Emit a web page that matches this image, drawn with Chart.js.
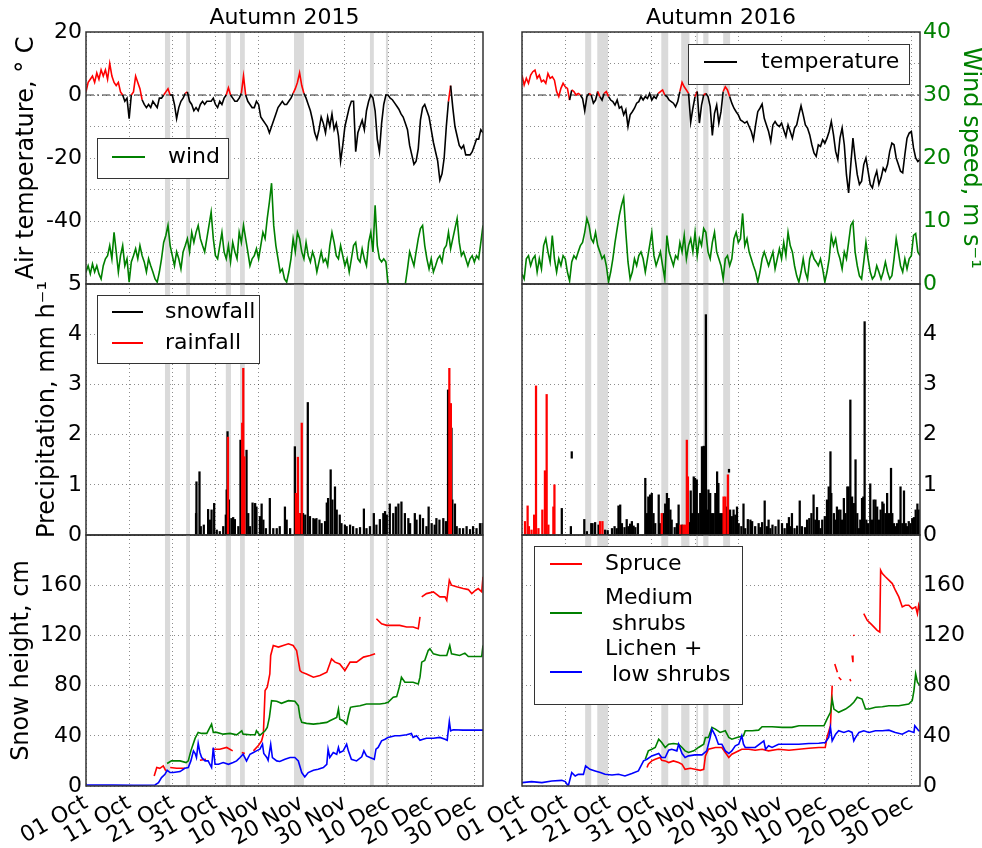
<!DOCTYPE html>
<html>
<head>
<meta charset="utf-8">
<script src="https://cdn.jsdelivr.net/npm/chart.js"></script>
<style>
  body { margin: 0; background: #fff; }
  #fig { position: relative; width: 982px; height: 848px; overflow: hidden; background: #fff; }
  #fig canvas { position: absolute; }
</style>
</head>
<body>
<div id="fig">
  <canvas id="cTL" width="500" height="300" style="left:0;top:0"></canvas>
  <canvas id="cTR" width="552" height="300" style="left:430px;top:0"></canvas>
  <canvas id="cML" width="500" height="290" style="left:0;top:260px"></canvas>
  <canvas id="cMR" width="552" height="290" style="left:430px;top:260px"></canvas>
  <canvas id="cBL" width="500" height="328" style="left:0;top:520px"></canvas>
  <canvas id="cBR" width="552" height="328" style="left:430px;top:520px"></canvas>
</div>
<script>
// x axis: days since 1 October
const tickDays = [0, 10, 20, 30, 40, 50, 60, 70, 80, 90];
const tickLabels = ['01 Oct', '11 Oct', '21 Oct', '31 Oct', '10 Nov', '20 Nov', '30 Nov', '10 Dec', '20 Dec', '30 Dec'];
const tempGrid = [-60, -50, -40, -30, -20, -10, 0, 10, 20];
const tempLabels = [20, 0, -20, -40];
const windGrid = [0, 5, 10, 15, 20, 25, 30, 35, 40];
const windLabels = [0, 10, 20, 30, 40];
const precGrid = [0, 1, 2, 3, 4, 5];
const precLabelsL = [0, 1, 2, 3, 4, 5];
const precLabelsR = [0, 1, 2, 3, 4];
const snowGrid = [0, 20, 40, 60, 80, 100, 120, 140, 160, 180, 200];
const snowLabels = [0, 40, 80, 120, 160];
const refLineDays = [0, 92];

// shaded periods [start day, end day]
const bands2015 = [[18.3, 19.5], [23.2, 24.1], [32.4, 33.6], [35.7, 36.8], [48.2, 50.5], [65.8, 66.7], [69.5, 70.0]];
const bands2016 = [[14.6, 16.0], [17.4, 19.9], [32.2, 33.8], [36.8, 38.7], [40.3, 40.7], [41.9, 43.1], [46.5, 48.1]];

// half-daily air temperature (deg C) and wind speed (m/s)
const temp2015 = [1, 4, 5, 6, 4, 7, 5, 8, 6, 8,
  5, 10, 6, 4, 3, 4, 1, 0, -2, -1,
  -7.5, 0, 1, 6, 4, 2, -1.5, -3, -4, -3,
  -4, -2, -3, -4, -1, -1, 0, 1, 2, 0,
  0, -3, -7.5, -4, -2, -1, 0.5, 1, -2, -3,
  -5, -4, -5, -3, -2, -3, -2, -2, -2, -1,
  -3, -4, -2, -3, -1, 0, 2.3, 0, -1, -2,
  -2, -1, 0.5, 6, 0, -2, -3, -4, -4, -2,
  -3, -7, -8, -9, -10, -12, -10, -8, -6, -4,
  -3, -2, -3, -3, -2, -1, 0.5, 2, 4, 7,
  3, 0.5, -1, -3, -5, -8, -12, -14, -11, -7,
  -9, -12, -7, -10, -6, -11, -9, -13, -21, -16,
  -10, -7, -4, -2, -2, -18, -12, -10, -8, -11,
  -5, -2, 0, -1, -5, -14, -18, -9, -3, 0,
  0, -1, -1.5, -2.5, -3.5, -4.5, -6, -7, -9, -11,
  -16, -19, -22, -21, -17, -8, -4, -3, -5, -7,
  -11, -15, -18, -21, -27, -25, -20, -10, -2, 3,
  -4, -10, -13, -16, -17, -16, -19, -19, -19, -18,
  -16, -14, -14, -11, -12];
const wind2015 = [1.9, 2.9, 1.6, 3.2, 1.9, 2.9, 1.6, 0.8, 2.9, 4.0,
  4.5, 6.1, 4.0, 8.2, 5.1, 1.9, 4.5, 6.1, 2.9, 4.0,
  0.3, 3.5, 4.5, 5.6, 4.0, 6.1, 4.5, 3.5, 1.9, 4.0,
  2.9, 1.9, 0.8, 0.3, 1.9, 4.0, 6.6, 7.7, 9.3, 6.1,
  4.5, 2.9, 5.1, 4.0, 2.4, 5.1, 6.1, 7.2, 5.1, 8.2,
  6.6, 8.2, 9.3, 7.2, 6.1, 5.1, 7.2, 9.3, 11.4, 7.2,
  4.5, 4.0, 6.1, 8.2, 5.1, 4.0, 6.1, 3.5, 6.6, 5.1,
  4.0, 8.2, 6.6, 9.3, 7.2, 5.1, 2.9, 4.0, 4.5, 5.6,
  4.0, 6.1, 8.2, 7.2, 10.4, 13.0, 16.0, 9.3, 6.1, 4.0,
  1.9, 2.4, 0.8, 0.3, 1.9, 4.0, 7.2, 5.1, 8.2, 7.2,
  5.1, 4.0, 6.6, 4.5, 3.5, 5.1, 4.0, 1.9, 3.5, 5.1,
  3.5, 4.0, 2.9, 6.1, 8.2, 6.6, 4.5, 4.0, 6.1, 4.5,
  2.9, 4.0, 1.9, 4.0, 6.1, 6.6, 4.0, 3.5, 5.6, 4.0,
  2.9, 6.6, 8.2, 5.1, 12.5, 6.1, 4.0, 3.5, 4.0, 3.5,
  0, 0, 0, 0, 0, 0, 0, 0, 0, 2.4,
  5.1, 4.0, 2.9, 5.1, 7.2, 8.8, 9.3, 6.1, 4.0, 2.4,
  4.0, 1.9, 2.9, 4.0, 4.5, 3.5, 5.6, 6.1, 8.2, 5.6,
  7.2, 8.8, 10.4, 6.6, 4.5, 5.1, 4.0, 2.9, 4.0, 4.5,
  3.5, 4.5, 4.0, 6.6, 9.3];
const temp2016 = [6.3, 3.2, 5.3, 3.7, 6.3, 7.4, 7.9, 5.3, 6.3, 4.2,
  4.7, 3.7, 6.8, 5.3, 5.8, 4.7, 1.1, -0.5, 2.1, 3.7,
  2.6, 2.1, -1.6, 1.6, 1.1, 0, 0.5, 0, -1.1, -5.0,
  -0.5, 0.5, 0, -2.6, -1.6, 1.1, -0.5, -1.6, 0.5, 1.1,
  -0.5, -1.6, -2.1, -3.2, -1.6, -4.2, -3.7, -6.3, -4.7, -10.0,
  -6.3, -5.3, -4.2, -2.6, -2.1, -0.5, -1.6, -0.5, -1.1, 0.5,
  -1.6, -0.5, -1.1, 0.5, 1.1, 1.6, 0, -0.5, -1.6, -2.1,
  -2.6, -3.7, -2.1, 1.1, 4.0, 2.6, 1.6, 0.5, -8.6, -4.2,
  -0.5, 1.1, -8.9, -3.2, 0, 0.5, -0.5, -3.7, -12.8, -5.8,
  -3.2, -8.9, -5.3, 1.1, 2.6, 1.6, -0.5, -2.6, -4.2, -5.3,
  -6.3, -7.9, -8.4, -8.9, -8.4, -10.0, -11.6, -14.2, -9.5, -5.3,
  -4.2, -2.9, -7.4, -9.5, -11.6, -14.7, -9.5, -8.4, -9.5, -10.0,
  -8.9, -11.1, -13.2, -9.5, -11.6, -13.7, -10.5, -9.5, -6.3, -3.4,
  -6.3, -9.5, -10.5, -12.6, -15.8, -18.4, -19.5, -15.8, -16.3, -14.2,
  -15.3, -13.7, -11.6, -8.4, -12.6, -17.9, -20.5, -13.7, -10.5, -15.8,
  -25.3, -31.1, -22.1, -13.7, -20.0, -25.3, -28.4, -27.4, -22.1, -20.0,
  -24.2, -28.4, -29.5, -26.3, -24.2, -28.4, -26.3, -23.2, -24.2, -22.1,
  -17.9, -15.3, -15.8, -20.0, -22.1, -24.2, -24.7, -18.9, -13.7, -12.1,
  -11.6, -16.8, -20.0, -21.1, -20.5];
const wind2016 = [1.6, 0.8, 4.0, 4.5, 2.9, 4.0, 4.5, 1.9, 4.0, 2.4,
  6.1, 7.2, 5.1, 3.5, 7.7, 4.0, 1.9, 4.0, 2.9, 4.5,
  4.0, 1.9, 0.5, 3.5, 4.5, 4.0, 5.1, 6.1, 6.6, 8.2,
  10.4, 9.3, 7.2, 6.6, 8.2, 6.1, 5.1, 4.0, 4.5, 2.9,
  0.3, 1.9, 4.0, 6.6, 8.8, 10.9, 12.5, 13.7, 8.2, 3.5,
  0.8, 1.9, 4.0, 2.9, 4.5, 5.1, 4.0, 1.9, 4.0, 6.1,
  8.2, 4.5, 2.9, 4.0, 5.1, 2.9, 0.8, 7.7, 5.1, 4.0,
  2.9, 4.5, 4.0, 6.6, 5.1, 7.7, 4.0, 6.1, 7.2, 5.1,
  8.2, 4.5, 7.2, 6.1, 8.8, 8.2, 5.1, 4.0, 6.6, 8.2,
  5.1, 4.0, 2.9, 0.8, 4.0, 4.5, 2.9, 4.0, 7.2, 8.2,
  6.6, 7.2, 11.2, 6.1, 7.2, 5.1, 4.0, 2.9, 1.9, 0.3,
  1.9, 4.0, 5.1, 4.0, 2.9, 4.0, 5.1, 2.4, 4.0, 5.6,
  4.0, 6.6, 4.5, 8.2, 6.1, 5.1, 2.9, 1.3, 0.3, 1.9,
  4.0, 1.9, 0.8, 4.0, 5.1, 4.0, 3.5, 2.9, 4.0, 2.4,
  0.3, 1.9, 4.0, 7.7, 6.1, 7.2, 5.1, 4.0, 2.4, 5.1,
  4.0, 6.6, 9.3, 9.9, 5.1, 2.9, 1.3, 0.8, 3.5, 6.6,
  4.0, 1.9, 0.8, 1.3, 2.9, 1.9, 0.8, 1.9, 3.5, 1.9,
  0.8, 1.3, 4.0, 7.2, 5.1, 2.9, 1.9, 4.0, 2.4, 4.0,
  4.5, 7.7, 8.0, 5.1, 4.5];

// precipitation (mm/h): [day, value]
const snowfall2015 = [[25.5, 0.43], [25.6, 1.06], [26.3, 1.26], [26.6, 0.17], [27.3, 0.2], [28.3, 0.51], [28.7, 0.3], [29.1, 0.5], [29.7, 0.63], [30.3, 0.1], [31.0, 0.07], [31.8, 0.17], [32.4, 0.4], [32.6, 0.9], [32.8, 2.06], [33.1, 0.7], [33.7, 0.33], [34.1, 0.35], [34.5, 0.31], [35.3, 0.17], [35.8, 1.89], [37.2, 1.69], [37.6, 0.43], [38.0, 0.17], [38.6, 0.64], [39.2, 0.63], [39.5, 0.56], [40.3, 0.37], [40.7, 0.62], [41.1, 0.3], [41.7, 0.13], [42.6, 0.73], [43.4, 0.13], [44.2, 0.13], [44.9, 0.17], [46.1, 0.56], [46.5, 0.3], [47.3, 0.13], [48.4, 1.76], [48.8, 0.83], [49.6, 0.43], [50.3, 0.43], [50.8, 0.4], [51.4, 2.64], [51.9, 0.37], [52.7, 0.33], [53.1, 0.31], [53.4, 0.33], [54.1, 0.3], [54.6, 0.23], [55.4, 0.27], [55.8, 0.64], [56.1, 0.73], [56.7, 1.3], [57.1, 0.7], [57.7, 0.96], [58.1, 0.5], [58.8, 0.4], [59.2, 0.23], [60.0, 0.2], [60.4, 0.17], [61.2, 0.2], [61.9, 0.17], [62.7, 0.13], [63.5, 0.15], [64.4, 0.52], [65.0, 0.13], [65.8, 0.17], [66.7, 0.43], [67.3, 0.2], [68.1, 0.31], [68.9, 0.43], [69.3, 0.47], [69.7, 0.4], [70.4, 0.62], [71.2, 0.43], [71.8, 0.56], [72.4, 0.62], [73.1, 0.66], [73.9, 0.43], [74.7, 0.33], [75.1, 0.23], [76.2, 0.43], [76.6, 0.3], [77.4, 0.4], [78.1, 0.33], [78.9, 0.17], [79.4, 0.56], [80.1, 0.23], [80.8, 0.2], [81.2, 0.33], [81.9, 0.3], [82.8, 0.33], [83.4, 0.27], [83.9, 2.89], [84.7, 2.13], [84.9, 0.7], [85.5, 0.62], [85.9, 0.17], [86.6, 0.13], [87.4, 0.13], [88.2, 0.17], [89.0, 0.11], [89.7, 0.17], [90.5, 0.13], [91.3, 0.23], [91.9, 0.23]];
const rainfall2015 = [[32.9, 1.95], [36.2, 2.23], [36.45, 3.32], [36.7, 1.56], [48.65, 0.83], [49.1, 1.55], [49.4, 0.43], [50.0, 2.23], [84.2, 3.32], [84.55, 2.62]];
const snowfall2016 = [[9.2, 0.53], [11.3, 0.17], [11.5, [1.53, 1.66]], [14.4, 0.31], [15.0, 0.07], [16.0, 0.23], [16.3, 0.23], [16.9, 0.25], [17.7, 0.2], [19.2, 0.1], [19.8, 0.09], [20.8, 0.13], [21.4, 0.17], [21.9, 0.13], [22.3, 0.58], [22.7, 0.6], [23.1, 0.23], [23.7, 0.15], [24.2, 0.31], [24.6, 0.17], [25.0, 0.22], [25.4, 0.27], [25.8, 0.18], [26.2, 0.15], [26.8, 0.23], [28.5, 1.13], [28.9, 0.43], [29.2, 0.76], [29.6, 0.8], [30.0, 0.83], [30.4, 0.43], [30.8, 0.23], [31.6, 0.8], [31.9, 0.23], [32.7, 0.43], [33.1, 0.62], [33.5, 0.83], [33.9, 0.73], [34.3, 0.5], [34.6, 0.3], [35.3, 0.15], [35.8, 0.23], [36.2, 0.6], [37.0, 0.2], [38.7, 0.25], [39.0, 0.88], [39.3, 0.43], [39.7, 1.16], [40.0, 1.13], [40.4, 1.1], [40.8, 0.43], [41.2, 0.83], [41.6, 1.76], [42.0, 1.77], [42.3, 1.76], [42.5, 4.39], [42.8, 0.5], [43.1, 0.9], [43.5, 0.83], [43.9, 0.43], [44.3, 0.43], [44.7, 0.83], [45.1, 1.26], [45.4, 1.03], [45.8, 0.43], [46.2, 0.43], [47.4, 0.56], [47.85, [1.25, 1.31]], [48.1, 0.5], [48.5, 0.37], [48.9, 0.5], [49.3, 0.4], [49.7, 0.56], [50.1, 0.23], [50.7, 0.17], [51.2, 0.62], [51.6, 0.13], [52.2, 0.31], [52.8, 0.3], [53.2, 0.27], [53.9, 0.17], [54.7, 0.23], [55.1, 0.15], [55.5, 0.25], [56.1, 0.68], [56.6, 0.17], [57.0, 0.3], [57.4, 0.13], [57.9, 0.2], [58.6, 0.17], [59.3, 0.3], [60.1, 0.23], [60.7, 0.13], [61.3, 0.23], [61.7, 0.35], [62.0, 0.17], [62.4, 0.43], [63.0, 0.13], [63.6, 0.18], [64.2, 0.68], [64.7, 0.17], [65.4, 0.15], [65.9, 0.3], [66.4, 0.33], [66.9, 0.43], [67.4, 0.8], [67.8, 0.3], [68.2, 0.55], [68.6, 0.29], [69.0, 0.13], [69.4, 0.3], [70.0, 0.37], [70.5, 0.7], [70.9, 0.96], [71.3, 1.66], [71.5, 0.83], [72.1, 0.43], [72.5, 0.3], [72.8, 0.56], [73.2, 0.5], [73.6, 0.5], [74.0, 0.3], [74.4, 0.73], [74.8, 0.43], [75.2, 0.96], [75.5, 0.96], [75.9, 2.69], [76.3, 0.76], [76.7, 0.63], [77.1, 1.5], [77.5, 0.43], [77.9, 0.13], [78.2, 0.3], [78.6, 0.73], [78.9, 0.76], [79.2, 4.25], [79.6, 0.3], [80.0, 0.23], [80.5, 1.02], [80.9, 0.3], [81.3, 0.7], [81.7, 0.7], [82.1, 0.56], [82.5, 0.3], [82.9, 0.5], [83.3, 0.66], [83.6, 0.62], [84.0, 0.43], [84.4, 0.83], [84.8, 0.43], [85.3, 1.33], [85.6, 0.43], [86.0, 0.23], [86.3, 0.17], [86.7, 0.23], [87.1, 0.3], [87.5, 0.96], [87.9, 0.23], [88.3, 0.88], [88.7, 0.23], [89.0, 0.17], [89.4, 0.27], [89.8, 0.23], [90.2, 0.33], [90.6, 0.35], [91.0, 0.5], [91.4, 0.62], [91.7, 0.5]];
const rainfall2016 = [[0.7, 0.27], [1.3, 0.58], [1.6, 0.17], [2.2, 0.1], [2.8, 0.4], [3.24, 2.97], [3.8, 0.13], [4.7, 0.5], [5.3, 1.28], [5.7, 2.8], [6.1, 0.2], [7.25, 0.56], [7.5, 1.0], [18.05, 0.27], [18.6, 0.27], [32.3, 0.43], [36.6, 0.2], [37.3, 0.2], [37.7, 0.2], [38.1, 1.89], [38.35, 1.16], [46.6, 0.76], [47.0, 0.76], [47.6, 1.2]];

// snow height (cm): [day, value], null = no data
const spruce2015 = [[15.8, 8], [16.4, 14.7], [17.1, 14.1], [17.9, 16], [18.5, 12], [18.6, null],
  [19.5, 14.7], [21.0, 14.1], [22.9, 14.1], [23.0, null],
  [26.4, 20.5], [27.8, 21.3], [27.9, null],
  [29.3, 29.3], [31.0, 29.3], [32.6, 30.7], [34.0, 28], [34.1, null],
  [36.1, 26.7], [36.8, 25.9], [36.9, null],
  [38.8, 28], [39.9, 32], [40.7, 36], [41.1, 41.3], [41.5, 76], [42.0, 78.7], [42.6, 89.3],
  [42.8, 104], [43.4, 112], [44.6, 110.7], [45.7, 112], [46.9, 113.3], [48.0, 112], [48.8, 108], [49.6, 92], [50.0, 90.7], [51.1, 89.3], [52.7, 86.7], [54.2, 88], [55.8, 90.7], [56.9, 101.3], [57.7, 98.7], [58.8, 97.3], [60.0, 92], [61.2, 98.7], [62.7, 98.7], [64.3, 102.7], [65.8, 104], [67.0, 105.3], [67.1, null],
  [67.3, 133.3], [68.5, 129.3], [69.7, 128], [71.2, 128], [72.7, 128], [74.3, 126.7], [75.8, 126.7], [77.0, 125.3], [77.4, 134.7], [77.5, null],
  [77.8, 150.7], [78.9, 153.3], [80.5, 154.7], [82.0, 150.7], [83.2, 150.7], [83.6, 148], [84.2, 164], [84.7, 160], [85.9, 158.7], [87.4, 157.3], [88.6, 156.5], [89.4, 153.3], [90.3, 156], [90.9, 157.3], [91.7, 154.7], [92.0, 166.7]];
const shrubs2015 = [[18.8, 17.9], [19.8, 20], [21.8, 20], [23.2, 18.7], [23.7, 20], [24.3, 28], [25.3, 38.1], [26.0, 42.7], [26.8, 41.9], [28.0, 41.9], [29.1, 49.3], [29.5, 42.7], [30.3, 42.7], [31.8, 41.3], [33.4, 41.9], [34.9, 40.8], [36.1, 44], [36.4, 41.3], [38.0, 40.8], [39.2, 40.8], [39.5, 44], [40.3, 40.3], [41.5, 44], [42.0, 46.7], [42.5, 54.7], [43.0, 68], [44.2, 67.5], [45.3, 65.9], [46.9, 68], [48.4, 67.5], [49.2, 64], [49.6, 54.7], [50.0, 50.7], [51.1, 49.9], [52.7, 49.3], [54.2, 49.9], [55.8, 50.7], [56.5, 52], [58.1, 54.7], [58.5, 61.3], [58.8, 53.3], [59.6, 52], [60.4, 49.3], [60.8, 56], [61.3, 62.7], [61.9, 63.2], [63.5, 64], [65.0, 65.3], [66.6, 65.3], [68.1, 65.3], [69.3, 65.9], [70.0, 66.7], [71.2, 70.7], [72.0, 71.2], [72.7, 80], [73.1, 86.7], [73.9, 82.7], [75.8, 82.7], [77.0, 81.3], [77.4, 86.7], [77.8, 98.7], [78.5, 100], [79.3, 108], [79.7, 109.3], [80.5, 105.3], [82.0, 104], [83.6, 104], [84.3, 112], [84.7, 105.3], [86.6, 104], [87.8, 105.9], [88.6, 103.2], [90.5, 103.2], [91.7, 103.2], [92.0, 112]];
const lichen2015 = [[0, 0.8], [6.3, 0.8], [11.0, 0.5], [16.0, 0.8], [16.8, 2.7], [17.5, 6.7], [18.3, 9.3], [18.8, 12.5], [19.5, 10.7], [20.2, 10.7], [21.8, 11.5], [22.9, 14.1], [23.7, 14.7], [24.3, 20], [24.9, 28], [25.3, 25.9], [25.6, 22.7], [26.0, 33.9], [26.4, 26.7], [26.8, 22.7], [27.6, 20], [28.3, 20], [29.1, 14.7], [29.5, 30.7], [29.9, 17.3], [30.7, 17.3], [31.8, 18.7], [33.0, 17.3], [34.1, 18.7], [34.9, 20], [35.7, 22.7], [36.4, 25.3], [37.2, 20], [38.0, 25.3], [38.8, 26.7], [39.5, 28], [40.3, 29.3], [40.9, 33.3], [41.2, 25.9], [41.9, 22.7], [42.2, 20.5], [42.8, 33.3], [43.2, 22.7], [44.2, 20], [44.9, 19.5], [46.1, 21.3], [47.3, 22.7], [48.4, 22.7], [49.2, 20], [50.0, 10.7], [50.7, 7.2], [51.5, 10.7], [52.7, 12.5], [53.8, 13.3], [55.0, 14.7], [55.8, 17.3], [56.1, 29.3], [56.5, 22.7], [57.3, 26.7], [58.1, 25.3], [58.5, 30.7], [58.8, 26.7], [59.6, 28], [60.4, 33.3], [60.8, 28], [61.5, 21.3], [62.7, 20], [63.9, 23.2], [64.4, 28], [65.0, 24], [65.8, 22.7], [66.8, 21.3], [67.2, 29.3], [67.7, 30.7], [68.5, 36], [69.3, 37.3], [70.0, 38.7], [71.6, 40], [72.7, 40], [74.3, 40.8], [75.4, 41.9], [75.8, 38.7], [76.6, 40], [77.4, 36.5], [78.1, 37.3], [78.9, 38.1], [80.5, 38.1], [82.0, 38.7], [83.2, 37.3], [83.7, 36.5], [84.2, 51.5], [84.5, 44], [85.1, 44.8], [87.4, 44.5], [89.7, 44.5], [92.0, 44.5]];
const spruce2016 = [[28.9, 14.7], [29.2, 17.3], [30.0, 20], [30.8, 21.3], [31.9, 22.7], [32.3, 20.5], [33.1, 20], [33.9, 18.7], [35.0, 20], [36.2, 18.7], [37.0, 17.3], [37.7, 13.3], [38.9, 14.1], [40.0, 13.3], [41.2, 12.5], [42.0, 13.3], [42.4, 24], [43.1, 29.3], [44.7, 30.7], [46.2, 30.7], [47.0, 26.7], [47.8, 22.7], [48.5, 25.3], [49.3, 26.7], [50.8, 29.3], [52.4, 29.3], [53.9, 28.5], [55.5, 29.3], [57.0, 28], [59.3, 29.3], [61.7, 28.5], [64.0, 29.3], [66.3, 30.1], [68.6, 30.7], [70.1, 30.7], [70.5, 38.7], [71.3, 48], [71.7, 80], [71.8, null],
  [72.3, 97.3], [72.9, 90.7], [73.0, null],
  [73.2, 86.7], [73.8, 84.5], [73.9, null],
  [75.8, 85.3], [76.0, 83.5], [76.1, null],
  [76.3, 104], [76.5, 98.7], [76.55, null],
  [76.65, 120.5], [76.75, 119.5], [76.8, null],
  [79.0, 137.3], [79.8, 132], [81.0, 128], [82.1, 124], [82.7, 122.7], [82.9, 172], [83.3, 169.3], [84.0, 166.7], [84.8, 164], [85.6, 161.3], [86.3, 156], [87.1, 150.7], [87.9, 142.7], [88.6, 144], [89.4, 144], [90.2, 141.3], [91.0, 142.7], [91.4, 137.3], [91.7, 144], [92.0, 140]];
const shrubs2016 = [[28.5, 21.3], [29.2, 28], [30.0, 29.3], [30.8, 30.7], [31.6, 37.3], [32.3, 34.7], [33.1, 30.7], [33.9, 33.3], [35.0, 33.9], [36.2, 33.3], [37.0, 30.7], [37.7, 28], [38.5, 26.7], [39.7, 28], [40.8, 30.7], [42.0, 33.3], [42.4, 38.7], [43.1, 38.7], [43.9, 46.7], [44.7, 45.3], [45.8, 42.7], [47.0, 44], [47.8, 38.7], [48.5, 37.3], [49.7, 38.7], [51.2, 40], [51.6, 44], [53.2, 44], [54.7, 44.5], [55.5, 47.2], [57.8, 47.2], [60.1, 46.7], [62.4, 46.7], [64.0, 48], [65.5, 48], [67.8, 48], [69.8, 48], [70.5, 53.3], [71.3, 58.7], [71.7, 69.3], [72.1, 61.3], [73.2, 58.7], [74.8, 61.3], [75.9, 64], [76.7, 66.7], [77.5, 70.7], [78.6, 69.3], [79.4, 61.3], [80.2, 61.3], [81.7, 62.7], [83.3, 63.2], [84.8, 64], [87.1, 64], [89.4, 65.3], [90.2, 68], [90.6, 76], [91.0, 89.3], [91.4, 82.7], [91.7, 81.3], [92.0, 80]];
const lichen2016 = [[0, 2.7], [2.2, 3.5], [4.6, 2.7], [6.9, 4], [9.2, 4.5], [10.0, 3.5], [10.7, 0], [11.5, 10.7], [12.3, 8], [13.0, 9.3], [14.2, 9.3], [14.7, 16], [15.7, 13.3], [16.9, 12], [18.1, 10.7], [19.2, 9.3], [20.8, 8.8], [22.3, 9.3], [23.8, 8], [25.4, 9.9], [26.9, 12], [28.1, 20], [28.9, 21.3], [30.0, 24], [31.6, 25.9], [32.3, 22.7], [33.1, 22.7], [33.9, 28.5], [34.6, 29.3], [35.8, 28], [36.2, 33.3], [37.0, 25.9], [37.7, 22.7], [38.5, 24], [40.0, 24.8], [41.6, 24.8], [42.7, 28], [43.5, 38.7], [43.9, 45.3], [44.7, 40], [45.4, 33.3], [46.2, 33.3], [47.0, 28], [47.8, 25.9], [48.5, 28], [49.3, 32], [50.1, 33.3], [50.8, 40], [51.2, 33.3], [51.6, 30.7], [53.9, 30.7], [55.9, 36], [56.3, 29.3], [57.0, 32], [57.8, 30.7], [59.3, 33.3], [61.7, 33.3], [64.0, 33.3], [66.3, 33.9], [68.6, 34.1], [70.1, 34.7], [70.9, 38.7], [71.3, 46.7], [71.7, 36], [72.5, 41.3], [73.2, 44], [74.4, 42.7], [75.5, 44], [76.3, 42.7], [76.7, 36], [77.1, 38.7], [77.9, 42.7], [79.0, 44], [80.2, 42.7], [81.7, 44], [83.3, 44], [84.8, 44.5], [86.3, 42.7], [87.9, 41.3], [89.4, 44], [90.6, 42.7], [90.8, 48], [91.7, 44], [92.0, 44]];

const GRID = 'rgba(0,0,0,0.45)';
const RED = '#ff0000', GREEN = '#008000', BLUE = '#0000ff', BLACK = '#000000';

Chart.defaults.font.family = '"DejaVu Sans", sans-serif';
Chart.defaults.font.size = 22;
Chart.defaults.color = '#000';
Chart.defaults.animation = false;
Chart.defaults.plugins.legend.display = false;
Chart.defaults.plugins.tooltip.enabled = false;
Chart.defaults.elements.point.radius = 0;
Chart.defaults.elements.line.tension = 0;
Chart.defaults.elements.line.borderWidth = 1.6;

const halfDaily = vals => vals.map((v, i) => ({x: i / 2, y: v}));
const toPts = arr => arr.map(p => ({x: p[0], y: p[1]}));
const refLine = refLineDays.map(d => ({x: d, y: 0}));
const tempColor = c => (c.p0.parsed.y + c.p1.parsed.y) / 2 > 0 ? RED : BLACK;

function zeroPad(s) {
  s.paddingLeft = 0; s.paddingRight = 0; s.paddingTop = 0; s.paddingBottom = 0;
}

function xScale(showLabels) {
  return {
    type: 'linear', min: 0, max: 92, offset: false,
    afterBuildTicks: s => { s.ticks = tickDays.map(v => ({value: v})); },
    afterFit: s => { s.height = showLabels ? 62 : 0; zeroPad(s); },
    grid: {color: GRID, lineWidth: 1, drawTicks: false, offset: false},
    border: {display: false, dash: [1, 3]},
    ticks: {
      display: showLabels, autoSkip: false, minRotation: 30, maxRotation: 30, padding: 4,
      callback: v => tickLabels[tickDays.indexOf(v)] || ''
    }
  };
}

function yScale(o) {
  const col = o.color || '#000';
  return {
    type: 'linear', position: o.pos, min: o.min, max: o.max,
    afterBuildTicks: s => { s.ticks = o.grid.map(v => ({value: v})); },
    afterFit: s => { s.width = o.width; zeroPad(s); },
    grid: {color: GRID, lineWidth: 1, drawTicks: false},
    border: {display: false, dash: [1, 3]},
    ticks: {padding: o.pos === 'left' ? 4 : 3, color: col,
      callback: v => o.labels.includes(v) ? String(v) : ''},
    title: o.title ? {display: true, text: o.title, color: col,
      font: {size: 24, lineHeight: 1}, padding: {top: o.titlePad, bottom: 0}} : {display: false}
  };
}

const titleOpts = t => ({display: true, text: t, fullSize: false, color: '#000',
  font: {size: 22, weight: 'normal', lineHeight: 1.2}, padding: {top: 0, bottom: 0.6}});

// shaded bands, frame and in-axes legends
const decor = {
  id: 'decor',
  beforeDatasetsDraw(chart, args, opts) {
    const {ctx, chartArea: a} = chart;
    const x = chart.scales.x;
    ctx.save();
    ctx.fillStyle = '#dadada';
    (opts.bands || []).forEach(b => {
      const x0 = x.getPixelForValue(b[0]), x1 = x.getPixelForValue(b[1]);
      ctx.fillRect(x0, a.top, x1 - x0, a.bottom - a.top);
    });
    ctx.restore();
  },
  afterDraw(chart, args, opts) {
    const {ctx, chartArea: a} = chart;
    ctx.save();
    const lg = opts.legend;
    if (lg) {
      const bx = a.left + lg.box[0], by = a.top + lg.box[1];
      ctx.fillStyle = '#fff';
      ctx.fillRect(bx, by, lg.box[2], lg.box[3]);
      ctx.strokeStyle = '#333';
      ctx.lineWidth = 1;
      ctx.strokeRect(bx + 0.5, by + 0.5, lg.box[2], lg.box[3]);
      ctx.font = '22px "DejaVu Sans"';
      ctx.textBaseline = 'middle';
      ctx.textAlign = 'left';
      lg.items.forEach(it => {
        ctx.strokeStyle = it.color;
        ctx.lineWidth = 2;
        ctx.beginPath();
        ctx.moveTo(a.left + lg.line[0], a.top + it.y);
        ctx.lineTo(a.left + lg.line[1], a.top + it.y);
        ctx.stroke();
        ctx.fillStyle = '#000';
        it.text.forEach((t, k) => ctx.fillText(t, a.left + lg.textX, a.top + it.ty[k]));
      });
    }
    ctx.strokeStyle = '#333';
    ctx.lineWidth = 1.5;
    ctx.strokeRect(a.left, a.top, a.right - a.left, a.bottom - a.top);
    ctx.restore();
  }
};
Chart.register(decor);

const windLegend = {box: [11, 106, 131, 40], line: [26, 59], textX: 82,
  items: [{color: GREEN, y: 125, text: ['wind'], ty: [125]}]};
const tempLegend = {box: [166, 12, 221, 40], line: [182, 215], textX: 239,
  items: [{color: BLACK, y: 30, text: ['temperature'], ty: [30]}]};
const precLegend = {box: [11, 11, 162, 68], line: [26, 57], textX: 79,
  items: [{color: BLACK, y: 28, text: ['snowfall'], ty: [28]}, {color: RED, y: 59, text: ['rainfall'], ty: [59]}]};
const snowLegend = {box: [12, 11, 208, 158], line: [28, 60], textX: 83,
  items: [{color: RED, y: 29, text: ['Spruce'], ty: [29]},
          {color: GREEN, y: 78, text: ['Medium', ' shrubs'], ty: [63, 89]},
          {color: BLUE, y: 137, text: ['Lichen +', ' low shrubs'], ty: [114, 140]}]};

function topPanel(id, year, temp, wind, left) {
  const scales = {x: xScale(false)};
  if (left) {
    scales.yT = yScale({pos: 'left', min: -60, max: 20, grid: tempGrid, labels: tempLabels, width: 86,
      title: 'Air temperature, \u00b0 C', titlePad: 15});
    scales.yW = {type: 'linear', position: 'right', min: 0, max: 40, display: false};
  } else {
    scales.yT = {type: 'linear', position: 'left', min: -60, max: 20, display: false};
    scales.yW = yScale({pos: 'right', min: 0, max: 40, grid: windGrid, labels: windLabels, width: 62,
      color: GREEN, title: 'Wind speed, m s\u207b\u00b9', titlePad: 0});
  }
  return new Chart(document.getElementById(id), {
    type: 'line',
    data: {datasets: [
      {data: halfDaily(temp), yAxisID: 'yT', borderColor: BLACK, segment: {borderColor: tempColor}, order: 0},
      {data: halfDaily(wind), yAxisID: 'yW', borderColor: GREEN, order: 1},
      {data: refLine, yAxisID: 'yT', borderColor: '#333', borderWidth: 1, borderDash: [8, 3, 2, 3], order: 2}
    ]},
    options: {
      responsive: false,
      layout: {padding: left ? {left: 0, right: 17, top: 5, bottom: 16} : {left: 92, right: 0, top: 5, bottom: 16}},
      scales: scales,
      plugins: {title: titleOpts('Autumn ' + year),
        decor: {bands: left ? bands2015 : bands2016, legend: left ? windLegend : tempLegend}}
    }
  });
}

function precPanel(id, snow, rain, left) {
  return new Chart(document.getElementById(id), {
    type: 'bar',
    data: {datasets: [
      {data: toPts(rain), backgroundColor: RED, barThickness: 1.6, grouped: false, order: 0},
      {data: toPts(snow), backgroundColor: BLACK, barThickness: 1.6, grouped: false, order: 1}
    ]},
    options: {
      responsive: false,
      layout: {padding: left ? {left: 0, right: 17, top: 24, bottom: 15} : {left: 92, right: 0, top: 24, bottom: 15}},
      scales: {
        x: xScale(false),
        y: left
          ? yScale({pos: 'left', min: 0, max: 5, grid: precGrid, labels: precLabelsL, width: 86,
              title: 'Precipitation, mm h\u207b\u00b9', titlePad: 36})
          : yScale({pos: 'right', min: 0, max: 5, grid: precGrid, labels: precLabelsR, width: 62})
      },
      plugins: {decor: {bands: left ? bands2015 : bands2016, legend: left ? precLegend : null}}
    }
  });
}

function snowPanel(id, spruce, shrubs, lichen, left) {
  return new Chart(document.getElementById(id), {
    type: 'line',
    data: {datasets: [
      {data: toPts(lichen), borderColor: BLUE, order: 0},
      {data: toPts(shrubs), borderColor: GREEN, order: 1},
      {data: toPts(spruce), borderColor: RED, order: 2}
    ]},
    options: {
      responsive: false,
      spanGaps: false,
      layout: {padding: left ? {left: 0, right: 17, top: 15, bottom: 0} : {left: 92, right: 0, top: 15, bottom: 0}},
      scales: {
        x: xScale(true),
        y: left
          ? yScale({pos: 'left', min: 0, max: 200, grid: snowGrid, labels: snowLabels, width: 86,
              title: 'Snow height, cm', titlePad: 10})
          : yScale({pos: 'right', min: 0, max: 200, grid: snowGrid, labels: snowLabels, width: 62})
      },
      plugins: {decor: {bands: left ? bands2015 : bands2016, legend: left ? null : snowLegend}}
    }
  });
}

topPanel('cTL', 2015, temp2015, wind2015, true);
topPanel('cTR', 2016, temp2016, wind2016, false);
precPanel('cML', snowfall2015, rainfall2015, true);
precPanel('cMR', snowfall2016, rainfall2016, false);
snowPanel('cBL', spruce2015, shrubs2015, lichen2015, true);
snowPanel('cBR', spruce2016, shrubs2016, lichen2016, false);
</script>
</body>
</html>
